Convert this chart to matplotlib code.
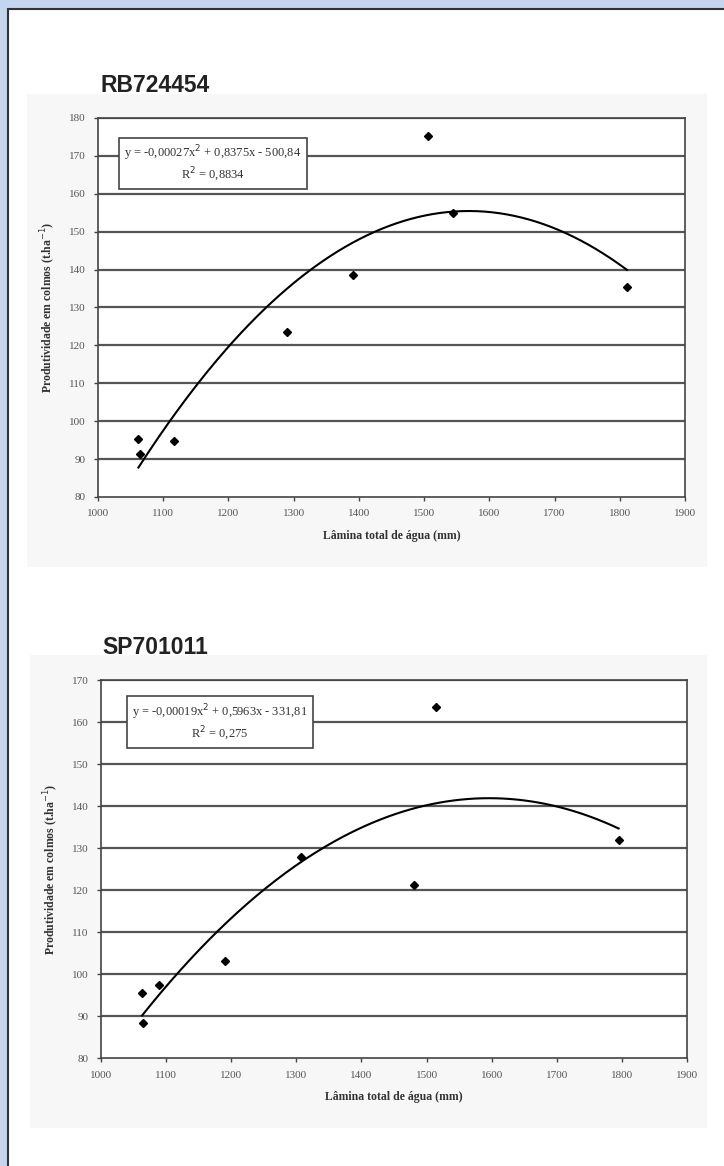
import numpy as np
import matplotlib.pyplot as plt
from matplotlib.patches import Rectangle

# RB724454
rb_x = [1062, 1065, 1116, 1290, 1391, 1506, 1544, 1811]
rb_y = [95.4, 91.4, 94.9, 123.6, 138.6, 175.3, 154.9, 135.5]
rb_eq = "y = -0,00027x$^2$ + 0,8375x - 500,84\nR$^2$ = 0,8834"

# SP701011
sp_x = [1063, 1065, 1089, 1190, 1307, 1480, 1515, 1795]
sp_y = [95.4, 88.4, 97.5, 103.0, 127.9, 121.1, 163.5, 132.0]
sp_eq = "y = -0,00019x$^2$ + 0,5963x - 331,81\nR$^2$ = 0,275"

x_ticks = list(range(1000, 2000, 100))
xlabel = "Lâmina total de água (mm)"
ylabel = "Produtividade em colmos (t.ha$^{-1}$)"

W, H = 724, 1166
fig = plt.figure(figsize=(W / 100, H / 100), dpi=100)
fig.patch.set_facecolor('#c6d5ee')

# white panel with dark border
fig.patches.append(Rectangle((8 / W, -0.01), 1.0, 1 - 9 / H + 0.01, transform=fig.transFigure,
                             facecolor='white', edgecolor='#333333', linewidth=1.5, zorder=-2))

serif = ['Liberation Serif', 'DejaVu Serif']
sans = ['Liberation Sans', 'DejaVu Sans']


def draw(px, bg, title, title_y, xs, ys, eq, box, ymin, ymax):
    # light grey chart area
    fig.patches.append(Rectangle((bg[0] / W, 1 - bg[3] / H), (bg[2] - bg[0]) / W, (bg[3] - bg[1]) / H,
                                 transform=fig.transFigure, facecolor='#f7f7f7', edgecolor='none', zorder=-1))
    fig.text(title[0] / W, 1 - title_y / H, title[1], family=sans, fontweight='bold',
             fontsize=16.5, color='#222222', va='center', ha='left')

    ax = fig.add_axes([px[0] / W, 1 - px[3] / H, (px[2] - px[0]) / W, (px[3] - px[1]) / H])
    ax.set_zorder(2)
    ax.set_facecolor('white')
    ax.set_xlim(1000, 1900)
    ax.set_ylim(ymin, ymax)
    ax.set_xticks(x_ticks)
    ax.set_yticks(range(ymin, ymax + 1, 10))
    for t in range(ymin + 10, ymax + 1, 10):
        ax.axhline(t, color='#555555', linewidth=1.6, zorder=1)
    for s in ax.spines.values():
        s.set_color('#444444')
        s.set_linewidth(1.2)
    ax.tick_params(direction='out', length=3, width=1, color='#444444', labelsize=8,
                   labelcolor='#555555', pad=6)
    for lab in ax.get_xticklabels() + ax.get_yticklabels():
        lab.set_family(serif)

    ax.set_xlabel(xlabel, family=serif, fontweight='bold', fontsize=8.5, color='#333333', labelpad=8)
    ax.set_ylabel(ylabel, family=serif, fontweight='bold', fontsize=8.5, color='#333333', labelpad=8)

    ax.plot(xs, ys, 'D', color='black', markersize=4.5, zorder=3)
    c = np.polyfit(xs, ys, 2)
    xx = np.linspace(min(xs), max(xs), 200)
    ax.plot(xx, np.polyval(c, xx), color='black', linewidth=1.5, zorder=2)

    ax.text(box[0], box[1], eq, transform=ax.transAxes, family=serif, fontsize=9, color='#333333',
            ha='center', va='center', linespacing=1.2,
            bbox=dict(boxstyle='square,pad=0.4', facecolor='white', edgecolor='#444444', linewidth=1.2),
            zorder=4)
    return ax


draw((98, 118, 685, 497), (27, 94, 707, 567), (100, 'RB724454'), 85,
     rb_x, rb_y, rb_eq, (0.196, 0.88), 80, 180)
draw((101, 680, 687, 1058), (30, 655, 707, 1128), (102, 'SP701011'), 647,
     sp_x, sp_y, sp_eq, (0.203, 0.888), 80, 170)

plt.savefig('out.png', dpi=100, facecolor=fig.get_facecolor())
